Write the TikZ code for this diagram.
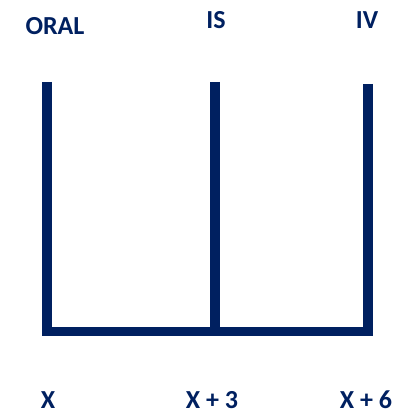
\documentclass[tikz,border=0pt]{standalone}
\usepackage{fontspec}
\setmainfont{Carlito}
\definecolor{navy}{HTML}{002060}
\begin{document}
\begin{tikzpicture}[x=1pt,y=-1pt,
  bar/.style={draw=navy,line width=9.5pt},
  lbl/.style={text=navy,font=\fontsize{26}{30}\selectfont\bfseries,inner sep=0pt}]
\useasboundingbox (0,0) rectangle (401,414);
\coordinate (a1) at (47,82);
\coordinate (b1) at (215,82);
\coordinate (c1) at (368,84);
\coordinate (a2) at (47,331.5);
\coordinate (b2) at (215,331.5);
\coordinate (c2) at (368,331.5);
\draw[bar] (a1) -- ([yshift=4.75pt]a2) ;
\draw[bar] (c1) -- ([yshift=4.75pt]c2);
\draw[bar] ([xshift=-4.75pt]a2) -- ([xshift=4.75pt]c2);
\draw[bar] (b1) -- (b2);
\node[lbl] (oral) at (55,26) {ORAL};
\node[lbl] (is) at (216,20) {IS};
\node[lbl] (iv) at (367,20) {IV};
\node[lbl] (x0) at (48,400) {X};
\node[lbl] (x3) at (212,400) {X + 3};
\node[lbl] (x6) at (366,400) {X + 6};
\end{tikzpicture}
\end{document}
